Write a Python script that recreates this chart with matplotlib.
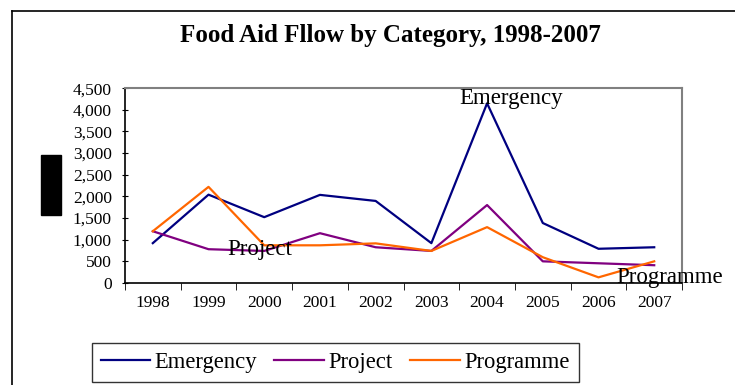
import matplotlib
matplotlib.use('Agg')
import matplotlib.pyplot as plt
from matplotlib.patches import Rectangle
from matplotlib.lines import Line2D

plt.rcParams['font.family'] = 'Liberation Serif'

years = ['1998', '1999', '2000', '2001', '2002', '2003', '2004', '2005', '2006', '2007']
emergency = [920, 2040, 1520, 2035, 1895, 920, 4150, 1385, 790, 825]
project = [1195, 780, 740, 1150, 825, 740, 1800, 500, 455, 410]
programme = [1195, 2220, 870, 870, 915, 740, 1290, 595, 130, 500]

fig = plt.figure(figsize=(7.35, 3.85), dpi=100)
ax = fig.add_axes([0.170, 0.265, 0.758, 0.506])

x = list(range(len(years)))
ax.plot(x, emergency, color='#000080', lw=1.6, label='Emergency')
ax.plot(x, project, color='#800080', lw=1.6, label='Project')
ax.plot(x, programme, color='#FF6600', lw=1.6, label='Programme')

ax.set_xlim(-0.5, len(years) - 0.5)
ax.set_ylim(0, 4500)
ax.set_yticks(range(0, 4501, 500))
ax.set_yticklabels(['{:,}'.format(v) for v in range(0, 4501, 500)], fontsize=12.5)
ax.set_xticks(x)
ax.set_xticklabels(years, fontsize=12.5)
ax.tick_params(axis='x', length=0, pad=9)
ax.set_xticks([i - 0.5 for i in range(len(years) + 1)], minor=True)
ax.tick_params(axis='x', which='minor', length=5, direction='out', color='black')
ax.tick_params(axis='y', length=5, direction='inout', pad=7, color='black')

for side in ['top', 'right']:
    ax.spines[side].set_color('#808080')
    ax.spines[side].set_linewidth(1.5)
for side in ['left', 'bottom']:
    ax.spines[side].set_color('black')
    ax.spines[side].set_linewidth(1.2)

# series labels next to the lines
ax.text(6.43, 4260, 'Emergency', fontsize=16.5, ha='center', va='center')
ax.text(1.92, 770, 'Project', fontsize=16.5, ha='center', va='center')
ax.text(9.28, 130, 'Programme', fontsize=16.5, ha='center', va='center')

fig.text(0.531, 0.909, 'Food Aid Fllow by Category, 1998-2007', fontsize=18,
         fontweight='bold', ha='center', va='center')

handles = [Line2D([], [], color=c, lw=1.6) for c in ['#000080', '#800080', '#FF6600']]
leg = fig.legend(handles, ['Emergency', 'Project', 'Programme'], loc='center',
                 bbox_to_anchor=(0.456, 0.058), ncol=3, fontsize=16.3, frameon=True,
                 fancybox=False, edgecolor='black', handlelength=2.2,
                 handletextpad=0.2, columnspacing=0.75, borderpad=0.4,
                 borderaxespad=0)
leg.get_frame().set_linewidth(1.0)

# outer chart border and the black box on the left
fig.add_artist(Line2D([12 / 735, 12 / 735], [0, 1 - 11 / 385], color='black', lw=1.2))
fig.add_artist(Line2D([12 / 735, 1], [1 - 11 / 385, 1 - 11 / 385], color='black', lw=1.2))
fig.add_artist(Rectangle((41 / 735, 1 - 215 / 385), 20 / 735, 60 / 385,
                         transform=fig.transFigure, color='black'))

fig.savefig('out.png', dpi=100)
